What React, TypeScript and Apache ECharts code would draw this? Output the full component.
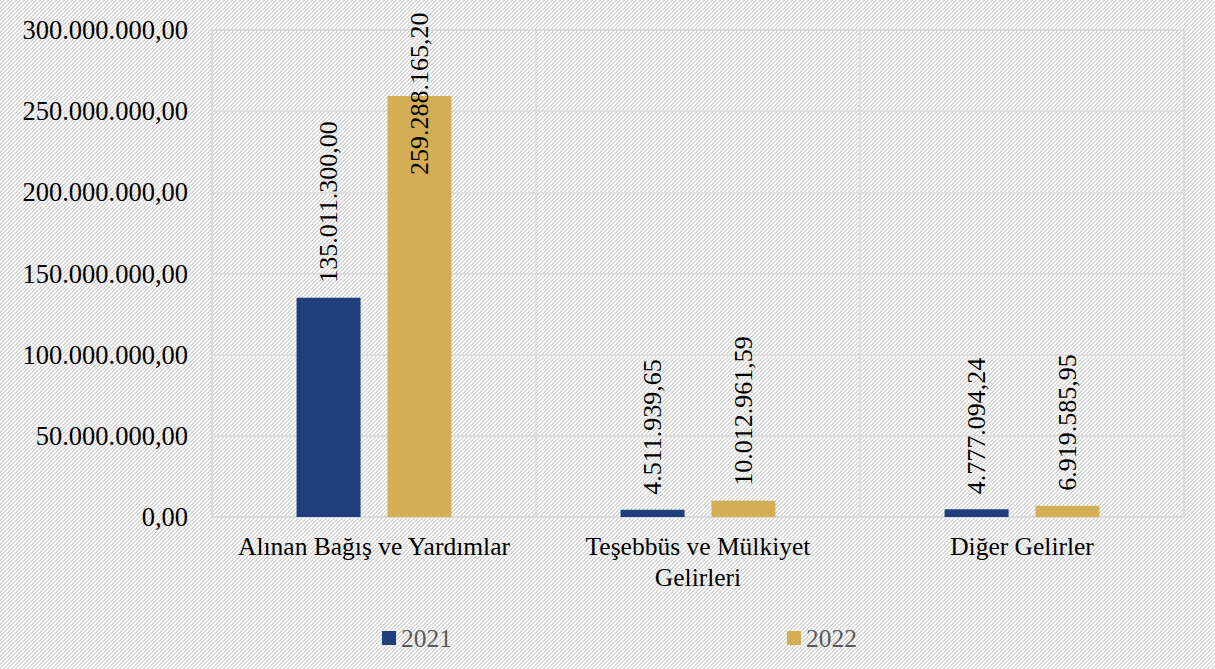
import React, { useEffect, useRef } from "react";
import * as echarts from "echarts";

const categories = ["Alınan Bağış ve Yardımlar", "Teşebbüs ve Mülkiyet\nGelirleri", "Diğer Gelirler"];
const seriesNames = ["2021", "2022"];
const values2021 = [135011300.0, 4511939.65, 4777094.24];
const values2022 = [259288165.2, 10012961.59, 6919585.95];
const yMin = 0;
const yMax = 300000000;
const yStep = 50000000;

function fmt(v: number): string {
  const fixed = Math.abs(v).toFixed(2);
  const [intPart, dec] = fixed.split(".");
  const withDots = intPart.replace(/\B(?=(\d{3})+(?!\d))/g, ".");
  return (v < 0 ? "-" : "") + withDots + "," + dec;
}

const FONT = "'Liberation Serif', 'Times New Roman', serif";

const hatchSvg =
  "<svg xmlns='http://www.w3.org/2000/svg' width='4' height='4' shape-rendering='crispEdges'>" +
  "<rect width='4' height='4' fill='#ffffff'/>" +
  "<rect x='0' y='3' width='1' height='1' fill='#d0d0d0'/>" +
  "<rect x='1' y='2' width='1' height='1' fill='#d0d0d0'/>" +
  "<rect x='2' y='1' width='1' height='1' fill='#d0d0d0'/>" +
  "<rect x='3' y='0' width='1' height='1' fill='#d0d0d0'/>" +
  "<rect x='1' y='3' width='1' height='1' fill='#e2e2e2'/>" +
  "<rect x='2' y='2' width='1' height='1' fill='#e2e2e2'/>" +
  "<rect x='3' y='1' width='1' height='1' fill='#e2e2e2'/>" +
  "<rect x='0' y='0' width='1' height='1' fill='#e2e2e2'/>" +
  "</svg>";
const hatchUrl = "url(\"data:image/svg+xml;utf8," + encodeURIComponent(hatchSvg) + "\")";

export default function App() {
  const ref = useRef<HTMLDivElement>(null);
  useEffect(() => {
    if (!ref.current) return;
    const chart = echarts.init(ref.current, undefined, { renderer: "svg" });
    const labelBase = {
      show: true,
      position: "top" as const,
      distance: 15,
      rotate: 90,
      align: "left" as const,
      verticalAlign: "middle" as const,
      fontFamily: FONT,
      fontSize: 26,
      color: "#000",
      formatter: (p: any) => fmt(p.value),
    };
    const data2022 = values2022.map((v) => {
      if (v > 0.85 * yMax) {
        return {
          value: v,
          label: { position: ["50%", 79], align: "left", verticalAlign: "middle", rotate: 90 },
        };
      }
      return v;
    });
    chart.setOption({
      animation: false,
      backgroundColor: "transparent",
      textStyle: { fontFamily: FONT },
      grid: {
        left: 212,
        right: 31,
        top: 30,
        bottom: 152,
        show: true,
        borderColor: "#d9d9d9",
        borderWidth: 1.5,
        backgroundColor: "transparent",
        containLabel: false,
      },
      legend: {
        left: 377,
        top: 620,
        itemWidth: 14,
        itemHeight: 14,
        itemGap: 335,
        icon: "rect",
        textStyle: { fontFamily: FONT, fontSize: 25.5, color: "#595959" },
        data: seriesNames,
      },
      xAxis: {
        type: "category",
        data: categories,
        axisLine: { show: true, lineStyle: { color: "#d9d9d9", width: 1.5 } },
        axisTick: { show: false },
        splitLine: { show: true, lineStyle: { color: "#d9d9d9", width: 1.5 } },
        axisLabel: {
          margin: 14,
          fontFamily: FONT,
          fontSize: 25.5,
          color: "#000",
          lineHeight: 31,
          interval: 0,
        },
      },
      yAxis: {
        type: "value",
        min: yMin,
        max: yMax,
        interval: yStep,
        axisLine: { show: false },
        axisTick: { show: false },
        splitLine: { show: true, lineStyle: { color: "#d9d9d9", width: 1.5 } },
        axisLabel: {
          margin: 24,
          fontFamily: FONT,
          fontSize: 26.5,
          color: "#000",
          formatter: (v: number) => fmt(v),
        },
      },
      series: [
        {
          name: seriesNames[0],
          type: "bar",
          data: values2021,
          barWidth: 64,
          barGap: "42%",
          itemStyle: { color: "#1f3f7c" },
          label: labelBase,
        },
        {
          name: seriesNames[1],
          type: "bar",
          data: data2022,
          barWidth: 64,
          barGap: "42%",
          itemStyle: { color: "#d4ae55" },
          label: labelBase,
        },
      ],
    });
    return () => chart.dispose();
  }, []);
  return (
    <div
      style={{
        position: "fixed",
        left: 0,
        top: 0,
        width: 1215,
        height: 669,
        backgroundColor: "#ececec",
        backgroundImage: hatchUrl,
        backgroundRepeat: "repeat",
        backgroundSize: "4px 4px",
        imageRendering: "pixelated",
      }}
    >
      <div ref={ref} style={{ width: 1215, height: 669 }} />
    </div>
  );
}
